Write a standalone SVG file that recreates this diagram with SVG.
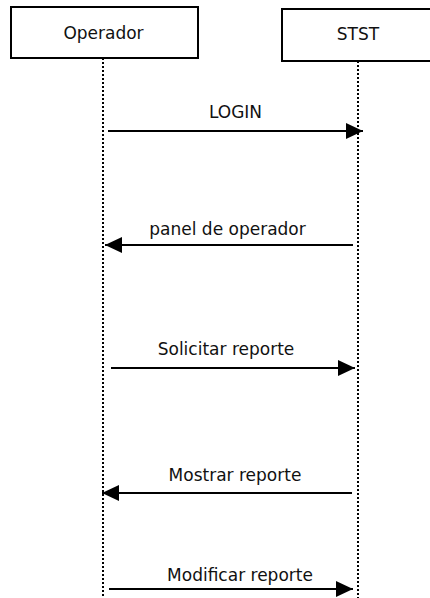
<svg xmlns="http://www.w3.org/2000/svg" width="430" height="598" viewBox="0 0 430 598">
<style>
.box{fill:#fff;stroke:#000;stroke-width:2}
.life{stroke:#000;stroke-width:2;stroke-dasharray:2 2;fill:none}
.msg{stroke:#000;stroke-width:2;fill:none}
text{font-family:"DejaVu Sans",sans-serif;font-size:17px;fill:#111;text-anchor:middle}
</style>
<defs>
<marker id="ah" markerWidth="17" markerHeight="16" refX="17" refY="8" orient="auto" markerUnits="userSpaceOnUse">
<path d="M0,0 L17,8 L0,16 Z" fill="#000"/>
</marker>
</defs>
<rect width="430" height="598" fill="#fff"/>
<g id="lifelines">
<line class="life" x1="103" y1="58" x2="103" y2="598"/>
<line class="life" x1="358" y1="61" x2="358" y2="598"/>
</g>
<g id="operador">
<rect class="box" x="11" y="7" width="187" height="51"/>
<text x="103.5" y="39">Operador</text>
</g>
<g id="stst">
<rect class="box" x="282" y="9" width="160" height="52"/>
<text x="358" y="40">STST</text>
</g>
<g id="connectors">
<line class="msg" x1="108" y1="131" x2="363" y2="131" marker-end="url(#ah)"/>
<line class="msg" x1="353" y1="245" x2="105" y2="245" marker-end="url(#ah)"/>
<line class="msg" x1="111" y1="368" x2="355" y2="368" marker-end="url(#ah)"/>
<line class="msg" x1="352" y1="493" x2="102" y2="493" marker-end="url(#ah)"/>
<line class="msg" x1="109" y1="589" x2="353" y2="589" marker-end="url(#ah)"/>
</g>
<g id="labels">
<text x="235.5" y="118">LOGIN</text>
<text x="227.5" y="235">panel de operador</text>
<text x="226" y="355">Solicitar reporte</text>
<text x="235" y="481">Mostrar reporte</text>
<text x="240" y="581">Modificar reporte</text>
</g>
</svg>
